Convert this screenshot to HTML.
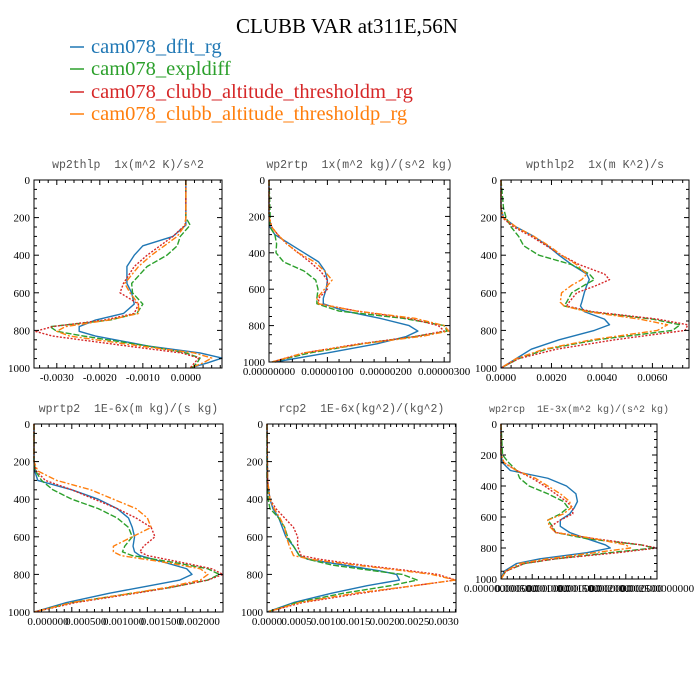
<!DOCTYPE html>
<html><head><meta charset="utf-8"><style>
html,body{margin:0;padding:0;background:#fff;}
#wrap{position:relative;width:700px;height:700px;overflow:hidden;}
svg text{font-family:"Liberation Serif",serif;}
</style></head><body>
<div id="wrap">
<svg id="fig" width="700" height="700" viewBox="0 0 700 700">
<text x="347" y="33" text-anchor="middle" font-size="21" fill="#000">CLUBB VAR at311E,56N</text>
<g>
 <g><line x1="70" y1="47" x2="84" y2="47" stroke="#1f77b4" stroke-width="1.5"/><text x="91" y="53" font-size="20.5" fill="#1f77b4">cam078_dflt_rg</text></g>
 <g><line x1="70" y1="69" x2="84" y2="69" stroke="#2ca02c" stroke-width="1.5"/><text x="91" y="75" font-size="20.5" fill="#2ca02c">cam078_expldiff</text></g>
 <g><line x1="70" y1="92" x2="84" y2="92" stroke="#d62728" stroke-width="1.5"/><text x="91" y="98" font-size="20.5" fill="#d62728">cam078_clubb_altitude_thresholdm_rg</text></g>
 <g><line x1="70" y1="114" x2="84" y2="114" stroke="#ff7f0e" stroke-width="1.5"/><text x="91" y="120" font-size="20.5" fill="#ff7f0e">cam078_clubb_altitude_thresholdp_rg</text></g>
</g>
</svg>
</div>
<script>
// ---- data arrays ----
const seriesNames = ["dflt","expldiff","thresholdm","thresholdp"];
const yTicks = [0,200,400,600,800,1000];

// Panel 1: wp2thlp
const p1Levels = [0,200,240,300,350,400,460,550,600,660,710,745,780,805,830,885,920,947,973,1000];
const p1Blue   = [0,0,0,-0.0003,-0.001,-0.0012,-0.00137,-0.00137,-0.00126,-0.0012,-0.00145,-0.0021,-0.00248,-0.00248,-0.0021,-0.00083,0.00033,0.00084,0.0005,0.0001];
const p1Green  = [0,0,0.0001,-0.00013,-0.0002,-0.00044,-0.0009,-0.00126,-0.00124,-0.001,-0.00114,-0.00176,-0.00316,-0.003,-0.00238,-0.00083,0,0.00033,0.00026,0.00014];
const p1Red    = [0,0,-0.00002,-0.0003,-0.0006,-0.0009,-0.0012,-0.00145,-0.00153,-0.0011,-0.0012,-0.0019,-0.0031,-0.0035,-0.0031,-0.0013,-0.0001,0.0003,0.0002,0.0001];
const p1Orange = [0,0,-0.00002,-0.0002,-0.0005,-0.0008,-0.0011,-0.00142,-0.0013,-0.0011,-0.0011,-0.0018,-0.0028,-0.003,-0.0027,-0.001,0.0002,0.0006,0.0004,0.0001];
const p1XTicks = [-0.003,-0.002,-0.001,0];
const p1XLabels = ["-0.0030","-0.0020","-0.0010","0.0000"];

// Panel 2: wp2rtp (units 1e-6)
const p2Levels = [0,200,260,300,350,400,450,500,550,600,650,680,720,760,800,830,860,900,950,1000];
const p2Blue   = [0,0,0.02,0.1,0.35,0.6,0.85,0.96,1.0,0.98,0.93,0.93,1.3,1.9,2.4,2.55,2.35,1.85,1.0,0.1];
const p2Green  = [0,0.02,0.02,0.1,0.13,0.12,0.25,0.6,0.8,0.84,0.82,0.82,1.2,2.3,3.0,3.05,2.5,1.6,0.7,0.05];
const p2Red    = [0,0,0.05,0.15,0.3,0.5,0.7,0.88,1.0,1.0,0.85,0.85,1.5,2.4,2.9,3.0,2.5,1.55,0.6,0.05];
const p2Orange = [0,0,0.05,0.15,0.3,0.5,0.78,0.95,1.08,0.95,0.82,0.85,1.5,2.5,3.0,3.08,2.6,1.6,0.6,0.05];
const p2XTicks = [0,1,2,3];
const p2XLabels = ["0.00000000","0.00000100","0.00000200","0.00000300"];

// Panel 3: wpthlp2 (units 1e-3)
const p3Levels = [0,150,200,250,300,350,400,450,500,530,560,600,650,670,700,740,770,800,850,900,950,1000];
const p3Blue   = [0,0,0.1,0.6,1.3,1.85,2.3,2.8,3.4,3.5,3.4,3.3,3.2,3.15,3.3,4.1,4.3,3.7,2.3,1.2,0.6,0];
const p3Green  = [0,0.1,0.2,0.4,0.7,0.9,1.5,2.8,3.5,3.7,3.3,2.8,2.6,2.5,3.5,6.0,7.1,6.8,3.8,1.8,0.7,0];
const p3Red    = [0,0,0.05,0.5,1.2,1.8,2.4,3.1,4.1,4.3,3.8,3.0,2.7,2.6,3.6,6.2,7.4,7.3,4.5,2.2,0.7,0];
const p3Orange = [0,0,0.1,0.6,1.3,1.9,2.4,3.0,3.4,3.2,2.8,2.4,2.35,2.5,3.4,5.5,6.6,6.2,3.6,1.7,0.6,0];
const p3XTicks = [0,2,4,6];
const p3XLabels = ["0.0000","0.0020","0.0040","0.0060"];

// Panel 4: wprtp2 (units 1e-3)
const p4Levels = [0,200,250,300,350,400,450,500,550,600,650,680,700,740,770,800,830,870,900,950,1000];
const p4Blue   = [0,0,0.01,0.05,0.5,0.85,1.1,1.25,1.3,1.33,1.31,1.33,1.4,1.76,2.02,2.09,1.93,1.4,1.0,0.43,0];
const p4Green  = [0,0,0.02,0.1,0.25,0.5,0.85,1.1,1.25,1.3,1.2,1.17,1.3,1.9,2.3,2.45,2.3,1.8,1.3,0.5,0];
const p4Red    = [0,0,0.03,0.15,0.5,0.8,1.1,1.35,1.55,1.6,1.45,1.4,1.5,2.0,2.35,2.5,2.3,1.8,1.35,0.55,0];
const p4Orange = [0,0,0.05,0.3,0.75,1.05,1.35,1.5,1.55,1.3,1.05,1.05,1.15,1.8,2.2,2.3,2.2,1.75,1.3,0.5,0];
const p4XTicks = [0,0.5,1,1.5,2];
const p4XLabels = ["0.000000","0.000500","0.001000","0.001500","0.002000"];

// Panel 5: rcp2 (units 1e-3)
const p5Levels = [0,300,400,450,500,550,600,650,700,720,750,780,800,830,860,900,950,1000];
const p5Blue   = [0,0.01,0.05,0.1,0.2,0.26,0.32,0.45,0.55,0.7,1.3,1.9,2.2,2.25,1.7,1.1,0.45,0];
const p5Green  = [0,0,0.02,0.05,0.2,0.3,0.35,0.45,0.55,0.7,1.1,1.8,2.3,2.55,2.1,1.3,0.5,0];
const p5Red    = [0,0.01,0.05,0.15,0.3,0.45,0.52,0.52,0.58,0.9,1.6,2.4,2.9,3.2,2.5,1.6,0.6,0];
const p5Orange = [0,0.01,0.05,0.12,0.22,0.3,0.33,0.38,0.45,0.75,1.5,2.3,2.8,3.2,2.5,1.5,0.55,0];
const p5XTicks = [0,0.5,1,1.5,2,2.5,3];
const p5XLabels = ["0.0000","0.0005","0.0010","0.0015","0.0020","0.0025","0.0030"];

// Panel 6: wp2rcp (normalised units)
const p6Levels = [0,200,250,300,350,400,450,500,540,580,620,660,700,740,780,800,830,870,900,950,1000];
const p6Blue   = [0,0,0.01,0.06,0.3,0.42,0.48,0.49,0.47,0.44,0.38,0.38,0.44,0.55,0.67,0.7,0.55,0.25,0.1,0.02,0];
const p6Green  = [0,0.01,0.05,0.1,0.12,0.18,0.3,0.4,0.43,0.38,0.3,0.33,0.35,0.55,0.9,0.98,0.7,0.35,0.15,0.03,0];
const p6Red    = [0,0,0.02,0.1,0.2,0.28,0.35,0.42,0.46,0.46,0.38,0.32,0.35,0.6,0.9,1.0,0.75,0.35,0.15,0.03,0];
const p6Orange = [0,0,0.02,0.1,0.22,0.3,0.38,0.44,0.45,0.4,0.3,0.31,0.35,0.6,0.8,0.83,0.6,0.3,0.12,0.03,0];
const p6XTicks = [0,0.2,0.4,0.6,0.8,1.0];
const p6XLabels = ["0.000000000000","0.000500000000","0.001000000000","0.001500000000","0.002000000000","0.002500000000"];

// ---- rendering ----
const NS = "http://www.w3.org/2000/svg";
const svg = document.getElementById("fig");
const colors = ["#1f77b4","#2ca02c","#d62728","#ff7f0e"];
const dashes = ["", "6,2", "2,1.6", "6,2,2,2"];

const panels = [
 {name:"wp2thlp", title:"wp2thlp  1x(m^2 K)/s^2", box:[34,180,222,368], xmin:-0.00353, xmax:0.00084, lv:p1Levels, ser:[p1Blue,p1Green,p1Red,p1Orange], xt:p1XTicks, xl:p1XLabels, lo:0, tfs:11.5},
 {name:"wp2rtp", title:"wp2rtp  1x(m^2 kg)/(s^2 kg)", box:[269,180,450,362], xmin:0, xmax:3.1, lv:p2Levels, ser:[p2Blue,p2Green,p2Red,p2Orange], xt:p2XTicks, xl:p2XLabels, lo:0, tfs:11.5},
 {name:"wpthlp2", title:"wpthlp2  1x(m K^2)/s", box:[501,180,689,368], xmin:0, xmax:7.45, lv:p3Levels, ser:[p3Blue,p3Green,p3Red,p3Orange], xt:p3XTicks, xl:p3XLabels, lo:0, tfs:11.5},
 {name:"wprtp2", title:"wprtp2  1E-6x(m kg)/(s kg)", box:[34,424,223,612], xmin:0, xmax:2.5, lv:p4Levels, ser:[p4Blue,p4Green,p4Red,p4Orange], xt:p4XTicks, xl:p4XLabels, lo:14, tfs:11.5},
 {name:"rcp2", title:"rcp2  1E-6x(kg^2)/(kg^2)", box:[267,424,456,612], xmin:0, xmax:3.21, lv:p5Levels, ser:[p5Blue,p5Green,p5Red,p5Orange], xt:p5XTicks, xl:p5XLabels, lo:0, tfs:11.5},
 {name:"wp2rcp", title:"wp2rcp  1E-3x(m^2 kg)/(s^2 kg)", box:[501,424,657,579], xmin:0, xmax:1.0, lv:p6Levels, ser:[p6Blue,p6Green,p6Red,p6Orange], xt:p6XTicks, xl:p6XLabels, lo:0, tfs:10}
];

function mk(tag, attrs, parent){
  const e = document.createElementNS(NS, tag);
  for (const k in attrs) e.setAttribute(k, attrs[k]);
  parent.appendChild(e);
  return e;
}

panels.forEach(function(p){
  const [x0,y0,x1,y1] = p.box;
  const xs = v => x0 + (v - p.xmin) / (p.xmax - p.xmin) * (x1 - x0);
  const ys = v => y0 + v / 1000 * (y1 - y0);
  const g = mk("g", {}, svg);
  
  

  const t = mk("text", {x:(x0+x1)/2, y:y0-12, "text-anchor":"middle", "font-size":p.tfs, fill:"#555", style:'font-family:"Liberation Mono",monospace;white-space:pre'}, g);
  t.textContent = p.title;
  
  

  const lg = mk("g", {}, g);
  
  
  p.ser.forEach(function(vals, si){
    let d = "";
    vals.forEach(function(v, i){ d += (i ? "L" : "M") + xs(v).toFixed(2) + "," + ys(p.lv[i]).toFixed(2); });
    const path = mk("path", {d:d, fill:"none", stroke:colors[si], "stroke-width":1.4, "stroke-linejoin":"round"}, lg);
    if (dashes[si]) path.setAttribute("stroke-dasharray", dashes[si]);
    
    
  });

  const fr = mk("rect", {x:x0, y:y0, width:x1-x0, height:y1-y0, fill:"none", stroke:"#000", "stroke-width":1}, g);
  
  

  const ya = mk("g", {stroke:"#000", "stroke-width":1}, g);
  
  
  for (let v = 0; v <= 1000; v += 50){
    const y = ys(v);
    const L = (v % 200 === 0) ? 5 : 3;
    mk("line", {x1:x0, y1:y, x2:x0+L, y2:y}, ya);
    mk("line", {x1:x1, y1:y, x2:x1-L, y2:y}, ya);
  }
  yTicks.forEach(function(v){
    const tx = mk("text", {x:x0-4, y:ys(v)+4, "text-anchor":"end", "font-size":11, fill:"#000", stroke:"none"}, g);
    tx.textContent = String(v);
    
    
  });

  const xa = mk("g", {stroke:"#000", "stroke-width":1}, g);
  
  
  const step = p.xt[1] - p.xt[0];
  const minor = step / 5;
  for (let k = Math.ceil((p.xmin - p.xt[0]) / minor - 1e-9); ; k++){
    const v = p.xt[0] + k * minor;
    if (v > p.xmax + 1e-12) break;
    const x = xs(v);
    const major = Math.abs(k % 5) === 0;
    const L = major ? 5 : 3;
    mk("line", {x1:x, y1:y1, x2:x, y2:y1-L}, xa);
    mk("line", {x1:x, y1:y0, x2:x, y2:y0+L}, xa);
  }
  p.xt.forEach(function(v, i){
    const tx = mk("text", {x:xs(v)+p.lo, y:y1+13, "text-anchor":"middle", "font-size":11, fill:"#000", stroke:"none"}, g);
    tx.textContent = p.xl[i];
    
    
  });
});
</script>
</body></html>
